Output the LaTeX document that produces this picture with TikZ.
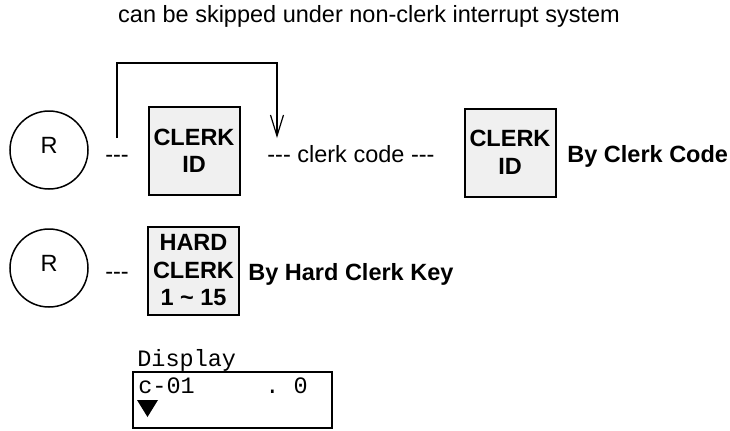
\documentclass[tikz,border=0pt]{standalone}
\usepackage{fontspec}
\setmainfont{Liberation Sans}[Ligatures=TeXOff]
\setmonofont{Liberation Mono}
\usetikzlibrary{arrows.meta}
\definecolor{idfill}{HTML}{F0F0F0}
\begin{document}
\begin{tikzpicture}[x=0.5pt,y=-0.5pt,
    font=\fontsize{11.75}{13.75}\selectfont,
    regc/.style={circle,draw,line width=0.75pt,minimum size=39pt,inner sep=0pt,text depth=0.45em},
    idbox/.style={draw,line width=1pt,fill=idfill,font=\fontsize{11.75}{13.75}\selectfont\bfseries,
      align=center,inner sep=0pt,minimum width=45.5pt,minimum height=44pt},
    txt/.style={anchor=base west,inner sep=0pt},
    skiparrow/.style={line width=0.6pt,-{Straight Barb[length=10.5pt,width=6.5pt]}}]
  \useasboundingbox (0,0) rectangle (730,430);
  \node[anchor=base] (note) at (369,22) {can be skipped under non-clerk interrupt system};
  % by clerk code
  \node[regc] (r1) at (49,150) {R};
  \node[anchor=base,inner sep=0pt] (d1) at (117,162) {---};
  \node[idbox] (id1) at (194,151) {CLERK\\ID};
  \node[txt] (code) at (267,162) {--- clerk code ---};
  \node[idbox] (id2) at (510,152.5) {CLERK\\ID};
  \node[txt,font=\fontsize{11.75}{13.75}\selectfont\bfseries] (bycode) at (567,162) {By Clerk Code};
  \coordinate (skipS) at (117,138);
  \coordinate (skipE) at (277,138);
  \draw[skiparrow] (skipS) -- ++(0,-75) -| (skipE);
  % by hard clerk key
  \node[regc] (r2) at (49,268) {R};
  \node[anchor=base,inner sep=0pt] (d2) at (117,279) {---};
  \node[idbox] (hard) at (193.5,270.5) {HARD\\CLERK\\1 \textasciitilde\ 15};
  \node[txt,font=\fontsize{11.75}{13.75}\selectfont\bfseries] (bykey) at (248,280) {By Hard Clerk Key};
  % display
  \node[txt,font=\fontsize{11.75}{13.75}\selectfont\ttfamily] (dlabel) at (137,366) {Display};
  \node[draw,line width=1pt,minimum width=99.5pt,minimum height=28pt,inner sep=0pt] (disp) at (232.5,400) {};
  \node[txt,font=\fontsize{11.75}{13.75}\selectfont\ttfamily] (dtext) at (138,393) {c-01\ \ \ \ \ .\ 0};
  \fill (137,400) -- (158,400) -- (147.5,417) -- cycle;
\end{tikzpicture}
\end{document}
